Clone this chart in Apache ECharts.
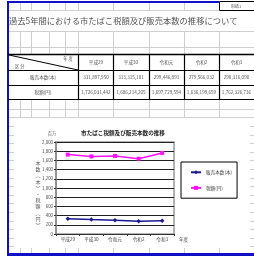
<!DOCTYPE html>
<html>
<head>
<meta charset="utf-8">
<script src="https://cdn.jsdelivr.net/npm/echarts@6/dist/echarts.min.js"></script>
<style>
html,body{margin:0;padding:0;background:#fff;}
#main{width:254px;height:256px;}
</style>
</head>
<body>
<div id="main"></div>
<script>
// 年度
var years = ['平成29', '平成30', '令和元', '令和2', '令和3'];
// 販売本数（本）
var honsu = [331897950, 313315101, 299446891, 279566032, 290316090];
// 税額（円）
var zeigaku = [1726031442, 1686214205, 1697729594, 1636199659, 1762326736];
var seriesNames = ['販売本数(本)', '税額(円)'];
var yTicks = ['0', '200', '400', '600', '800', '1,000', '1,200', '1,400', '1,600', '1,800', '2,000'];

var FONT = '"Noto Sans CJK JP", sans-serif';
var GREY = '#cfcfcf';
var BLUE = '#1010c8';

function txt(x, y, s, size, color, align, weight) {
    return {
        type: 'text', x: x, y: y, z: 10,
        style: {
            text: s, font: (weight || 'normal') + ' ' + size + 'px ' + FONT,
            fill: color || '#444', align: align || 'center', verticalAlign: 'middle'
        }
    };
}
function ln(x1, y1, x2, y2, color, w, z) {
    return {
        type: 'line', z: z == null ? 10 : z,
        shape: {x1: x1, y1: y1, x2: x2, y2: y2},
        style: {stroke: color, lineWidth: w}
    };
}

var els = [];
// シートの罫線（グレー）
var colX = [20, 31, 49, 65, 78, 113, 149, 184, 219];
colX.forEach(function (x) {
    els.push(ln(x + 0.5, 2, x + 0.5, 10, GREY, 1, -3));
    els.push(ln(x + 0.5, 31, x + 0.5, 54, GREY, 1, -3));
    els.push(ln(x + 0.5, 99, x + 0.5, 254, GREY, 1, -3));
});
[10.5, 31.5, 47.5, 109.5, 117.5].forEach(function (y) {
    els.push(ln(8, y, 254, y, GREY, 1, -3));
});
for (var gy = 126; gy < 248; gy += 8.6) {
    els.push(ln(8, Math.round(gy) + 0.5, 254, Math.round(gy) + 0.5, GREY, 1, -3));
}
// グラフ領域（白）
els.push({type: 'rect', z: -2, shape: {x: 14, y: 118, width: 236, height: 130}, style: {fill: '#fff'}});

// 青枠
els.push(ln(8, 2, 219, 2, BLUE, 2));
els.push(ln(8, 1, 8, 256, BLUE, 2));
els.push(ln(8, 254.5, 254, 254.5, BLUE, 3));

// 別紙1
els.push({type: 'rect', z: 10, shape: {x: 219.5, y: 1.5, width: 40, height: 9},
    style: {fill: '#fff', stroke: '#000', lineWidth: 1}});
els.push(txt(236, 6, '別紙1', 4, '#555'));

// タイトル
els.push(txt(9, 21, '過去5年間における市たばこ税額及び販売本数の推移について', 8.3, '#555', 'left'));

// 表
[54, 70, 85, 99].forEach(function (y, i) {
    els.push(ln(8, y + 0.5, 254, y + 0.5, '#000', i === 0 ? 1.5 : 1));
});
[78, 113, 149, 184, 219].forEach(function (x) {
    els.push(ln(x + 0.5, 54, x + 0.5, 99.5, '#000', 1.2));
});
els.push(ln(9, 55, 78, 70, '#000', 1));
els.push(txt(68, 58.5, '年 度', 4.2, '#555'));
els.push(txt(15, 66.5, '区 分', 4.2, '#555', 'left'));
var colC = [96, 131, 166.5, 201.5, 236.5];
years.forEach(function (y, i) {
    els.push(txt(colC[i], 62, y, 4.6, '#555'));
    els.push(txt(colC[i], 77.5, honsu[i].toLocaleString('en-US'), 4.6, '#555'));
    els.push(txt(colC[i], 92, zeigaku[i].toLocaleString('en-US'), 4.6, '#555'));
});
els.push(txt(43, 77.5, seriesNames[0], 4.6, '#555'));
els.push(txt(43, 92, seriesNames[1], 4.6, '#555'));

// グラフ見出し
els.push(txt(123, 133, '市たばこ税額及び販売本数の推移', 5.6, '#222', 'center', 'bold'));
els.push(txt(52, 133, '百万', 4.2, '#555'));
els.push({
    type: 'text', x: 38, y: 194, z: 10,
    style: {
        text: '本\n数\n︵\n本\n︶\n・\n税\n額\n︵\n円\n︶',
        font: '5px ' + FONT, lineHeight: 6.2, fill: '#555',
        align: 'center', verticalAlign: 'middle'
    }
});

var chart = echarts.init(document.getElementById('main'), null, {renderer: 'canvas'});
chart.setOption({
    animation: false,
    backgroundColor: '#fff',
    graphic: {elements: els},
    grid: {left: 56, right: 80, top: 142, bottom: 22, show: true, borderColor: '#999', borderWidth: 1.5},
    legend: {
        left: 181, top: 162, orient: 'vertical',
        itemWidth: 10, itemHeight: 5, itemGap: 11,
        padding: [8, 5, 8, 9],
        borderColor: '#000', borderWidth: 1,
        data: seriesNames,
        textStyle: {fontSize: 4.6, color: '#444', fontFamily: FONT}
    },
    xAxis: {
        type: 'category', data: years, boundaryGap: true,
        name: '年度', nameLocation: 'end', nameGap: 5,
        nameTextStyle: {fontSize: 4.6, color: '#444', fontFamily: FONT, verticalAlign: 'top', padding: [3, 0, 0, 0]},
        axisLine: {lineStyle: {color: '#333', width: 1}},
        axisTick: {show: true, length: 2, lineStyle: {color: '#333'}},
        axisLabel: {fontSize: 4.6, color: '#444', fontFamily: FONT, margin: 3}
    },
    yAxis: {
        type: 'value', min: 0, max: 2000, interval: 200,
        axisLine: {show: true, lineStyle: {color: '#888', width: 1.5}},
        axisTick: {show: true, length: 2, lineStyle: {color: '#333'}},
        axisLabel: {fontSize: 4.4, color: '#444', fontFamily: FONT, margin: 3,
            formatter: function (v) { return yTicks[v / 200]; }},
        splitLine: {show: true, lineStyle: {color: '#222', width: 1.2}}
    },
    series: [
        {
            name: seriesNames[0], type: 'line',
            data: honsu.map(function (v) { return v / 1e6; }),
            symbol: 'diamond', symbolSize: 4.5,
            itemStyle: {color: '#1a1a90'},
            lineStyle: {color: '#1a1a90', width: 1.5}
        },
        {
            name: seriesNames[1], type: 'line',
            data: zeigaku.map(function (v) { return v / 1e6; }),
            symbol: 'rect', symbolSize: 4,
            itemStyle: {color: '#ff10ff'},
            lineStyle: {color: '#ff10ff', width: 1.5}
        }
    ]
});
</script>
</body>
</html>
